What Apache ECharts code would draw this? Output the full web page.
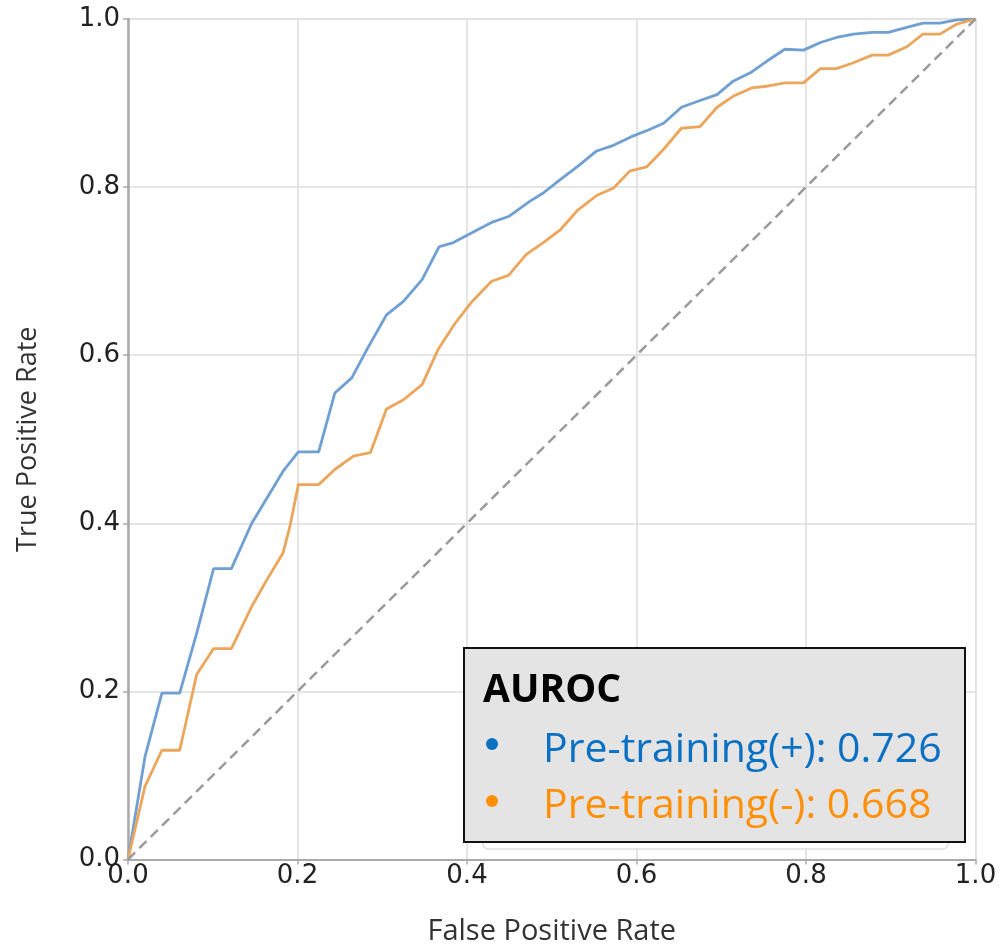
<!DOCTYPE html>
<html>
<head>
<meta charset="utf-8">
<script src="https://cdn.jsdelivr.net/npm/echarts@6/dist/echarts.min.js"></script>
<style>
html,body{margin:0;padding:0;background:#fff;}
#chart{width:1003px;height:947px;}
</style>
</head>
<body>
<div id="chart"></div>
<script>
// ---- data ----
const blueFpr = [0, 0.020, 0.040, 0.061, 0.081, 0.101, 0.122, 0.146, 0.164, 0.183, 0.201, 0.225, 0.244, 0.264, 0.282, 0.305, 0.325, 0.347, 0.367, 0.384, 0.408, 0.429, 0.449, 0.474, 0.490, 0.510, 0.531, 0.553, 0.571, 0.594, 0.614, 0.632, 0.653, 0.675, 0.695, 0.714, 0.736, 0.754, 0.775, 0.797, 0.817, 0.836, 0.856, 0.878, 0.897, 0.919, 0.938, 0.958, 0.978, 1.0];
const blueTpr = [0, 0.122, 0.198, 0.198, 0.269, 0.346, 0.346, 0.400, 0.430, 0.462, 0.485, 0.485, 0.555, 0.573, 0.607, 0.648, 0.664, 0.690, 0.729, 0.734, 0.747, 0.758, 0.765, 0.783, 0.793, 0.809, 0.825, 0.843, 0.849, 0.860, 0.868, 0.876, 0.895, 0.903, 0.910, 0.926, 0.937, 0.950, 0.964, 0.963, 0.972, 0.978, 0.982, 0.984, 0.984, 0.990, 0.995, 0.995, 0.999, 1.0];
const orangeFpr = [0, 0.020, 0.040, 0.061, 0.081, 0.101, 0.122, 0.146, 0.164, 0.183, 0.191, 0.201, 0.225, 0.244, 0.266, 0.286, 0.305, 0.325, 0.347, 0.366, 0.386, 0.406, 0.429, 0.449, 0.470, 0.490, 0.510, 0.531, 0.553, 0.573, 0.592, 0.612, 0.632, 0.653, 0.675, 0.695, 0.714, 0.736, 0.754, 0.775, 0.797, 0.817, 0.836, 0.856, 0.878, 0.897, 0.919, 0.938, 0.958, 0.978, 1.0];
const orangeTpr = [0, 0.087, 0.130, 0.130, 0.220, 0.251, 0.251, 0.301, 0.333, 0.365, 0.396, 0.446, 0.446, 0.464, 0.480, 0.484, 0.536, 0.547, 0.565, 0.607, 0.638, 0.664, 0.688, 0.695, 0.720, 0.734, 0.749, 0.773, 0.790, 0.799, 0.819, 0.824, 0.845, 0.870, 0.872, 0.895, 0.908, 0.918, 0.920, 0.924, 0.924, 0.941, 0.941, 0.948, 0.957, 0.957, 0.967, 0.982, 0.982, 0.994, 1.0];
const chanceLine = [[0, 0], [1, 1]];
const seriesNames = ['Pre-training(+)', 'Pre-training(-)'];
const aurocValues = ['0.726', '0.668'];
const legendTitle = 'AUROC';
const xAxisTitle = 'False Positive Rate';
const yAxisTitle = 'True Positive Rate';
const axisTicks = [0, 0.2, 0.4, 0.6, 0.8, 1.0];

// ---- styling ----
const BLUE = '#6f9fd3', ORANGE = '#eca65b';
const TXT_BLUE = '#0a70c4', TXT_ORANGE = '#ff9008';
const zip = (a, b) => a.map((v, i) => [v, b[i]]);

const chart = echarts.init(document.getElementById('chart'), null, {renderer: 'canvas'});
const tickFont = {fontFamily: '"DejaVu Sans", Verdana, sans-serif', fontSize: 26, color: '#222'};

chart.setOption({
  animation: false,
  backgroundColor: '#fff',
  grid: {left: 128, right: 27.5, top: 19, bottom: 87.5, containLabel: false,
         outerBoundsMode: 'none',
         show: true, borderColor: '#eeeeee', borderWidth: 1},
  xAxis: {
    type: 'value', min: 0, max: 1, interval: 0.2,
    name: xAxisTitle, nameLocation: 'middle', nameGap: 58,
    nameTextStyle: {fontFamily: '"Open Sans", sans-serif', fontSize: 29, color: '#333'},
    axisLine: {show: true, onZero: false, lineStyle: {color: '#aaaaaa', width: 2}},
    axisTick: {show: true, length: 5, lineStyle: {color: '#aaaaaa', width: 1.5}},
    axisLabel: Object.assign({margin: 4, formatter: v => axisTicks.includes(+v.toFixed(1)) ? v.toFixed(1) : ''}, tickFont),
    splitLine: {show: true, lineStyle: {color: '#dddddd', width: 1.5}}
  },
  yAxis: {
    type: 'value', min: 0, max: 1, interval: 0.2,
    name: yAxisTitle, nameLocation: 'middle', nameGap: 86, nameRotate: 90,
    nameTextStyle: {fontFamily: '"Open Sans", sans-serif', fontSize: 27, color: '#333'},
    axisLine: {show: true, onZero: false, lineStyle: {color: '#aaaaaa', width: 2.5}},
    axisTick: {show: true, length: 5, lineStyle: {color: '#aaaaaa', width: 1.5}},
    axisLabel: Object.assign({margin: 8, formatter: v => v.toFixed(1)}, tickFont),
    splitLine: {show: true, lineStyle: {color: '#dddddd', width: 1.5}}
  },
  series: [
    {name: seriesNames[0], type: 'line', data: zip(blueFpr, blueTpr), showSymbol: false,
     lineStyle: {color: BLUE, width: 2.8}, z: 3},
    {name: seriesNames[1], type: 'line', data: zip(orangeFpr, orangeTpr), showSymbol: false,
     lineStyle: {color: ORANGE, width: 2.8}, z: 3},
    {name: 'chance', type: 'line', data: chanceLine, showSymbol: false,
     lineStyle: {color: '#9a9a9a', width: 2.5, type: [10, 6]}, z: 4}
  ],
  graphic: [
    {type: 'rect', shape: {x: 483, y: 660, width: 465, height: 189, r: 5},
     style: {fill: '#ffffff', stroke: '#dddddd', lineWidth: 1.5}, z: 10},
    {type: 'rect', shape: {x: 464, y: 648, width: 501, height: 194},
     style: {fill: '#e4e4e4', stroke: '#111111', lineWidth: 2}, z: 11},
    {type: 'text', left: 483, top: 671, z: 12,
     style: {text: legendTitle, fontFamily: 'Open Sans', fontWeight: 'bold', fontSize: 39, fill: '#000'}},
    {type: 'circle', shape: {cx: 492, cy: 744, r: 6}, style: {fill: TXT_BLUE}, z: 12},
    {type: 'circle', shape: {cx: 492, cy: 801, r: 6}, style: {fill: TXT_ORANGE}, z: 12},
    {type: 'text', x: 543, y: 750, z: 12,
     style: {text: seriesNames[0] + ': ' + aurocValues[0], fontFamily: 'Open Sans', fontSize: 41,
             fill: TXT_BLUE, verticalAlign: 'middle', align: 'left'}},
    {type: 'text', x: 543, y: 806, z: 12,
     style: {text: seriesNames[1] + ': ' + aurocValues[1], fontFamily: 'Open Sans', fontSize: 41,
             fill: TXT_ORANGE, verticalAlign: 'middle', align: 'left'}}
  ]
});
</script>
</body>
</html>
